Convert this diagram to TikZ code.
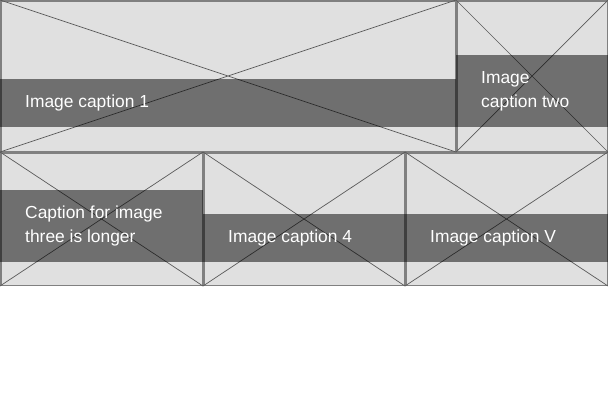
\documentclass[tikz,border=0pt]{standalone}
\usepackage{fontspec}
\setmainfont{Liberation Sans}
\usetikzlibrary{positioning}

\definecolor{framegray}{RGB}{128,128,128}
\definecolor{imggray}{RGB}{224,224,224}
\definecolor{crossgray}{RGB}{90,90,90}

\begin{document}
\begin{tikzpicture}[x=1pt,y=-1pt,
frame/.style={draw=framegray,fill=imggray,line width=1.5pt,inner sep=0pt},
cross/.style={draw=crossgray,line width=0.7pt},
band/.style={fill=black,fill opacity=0.5},
caption/.style={anchor=west,text=white,align=left,inner sep=0pt,
  font=\fontsize{17.4}{24}\selectfont}]

\useasboundingbox (0,0) rectangle (608,400);

% image frames
\node[frame,minimum width=454.5pt,minimum height=150.5pt] (f1) at (228,76) {};
\node[frame,minimum width=150.5pt,minimum height=150.5pt] (f2) at (532,76) {};
\node[frame,minimum width=201.5pt,minimum height=132.5pt] (f3) at (101.5,219) {};
\node[frame,minimum width=200.5pt,minimum height=132.5pt] (f4) at (304,219) {};
\node[frame,minimum width=201.5pt,minimum height=132.5pt] (f5) at (506.5,219) {};

% placeholder crosses
\foreach \f in {f1,f2,f3,f4,f5}
  \draw[cross] (\f.north west) -- (\f.south east)
               (\f.south west) -- (\f.north east);

% caption bands
\fill[band] (0,79) rectangle (456,127);
\fill[band] (456,55) rectangle (608,127);
\fill[band] (0,190) rectangle (203,262);
\fill[band] (203,214) rectangle (405,262);
\fill[band] (405,214) rectangle (608,262);

% captions
\node[caption] (c1) at (25,103)  {Image caption 1};
\node[caption] (c2) at (481,91)  {Image\\caption two};
\node[caption] (c3) at (25,226)  {Caption for image\\three is longer};
\node[caption] (c4) at (228,238) {Image caption 4};
\node[caption] (c5) at (430,238) {Image caption V};
\end{tikzpicture}
\end{document}
